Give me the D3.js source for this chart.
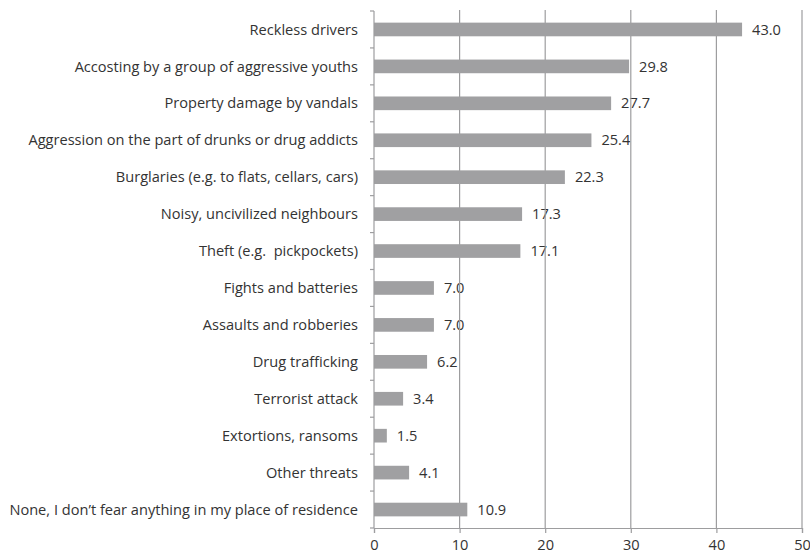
<!DOCTYPE html>
<html><head><meta charset="utf-8">
<script src="https://cdn.jsdelivr.net/npm/d3@7"></script>
<style>body{margin:0;background:#fff}svg{display:block}text{white-space:pre}</style>
</head><body>
<svg id="c" width="810" height="554"></svg>
<script>
const categories = ["Reckless drivers","Accosting by a group of aggressive youths","Property damage by vandals","Aggression on the part of drunks or drug addicts","Burglaries (e.g. to flats, cellars, cars)","Noisy, uncivilized neighbours","Theft (e.g.  pickpockets)","Fights and batteries","Assaults and robberies","Drug trafficking","Terrorist attack","Extortions, ransoms","Other threats","None, I don\u2019t fear anything in my place of residence"];
const values = [43.0,29.8,27.7,25.4,22.3,17.3,17.1,7.0,7.0,6.2,3.4,1.5,4.1,10.9];
const xTicks = [0,10,20,30,40,50];

const svg = d3.select("#c");
const font = "'Open Sans', sans-serif";
const fs = 14.6;
const x = d3.scaleLinear().domain([0,50]).range([374,802]);
const y = d3.scaleBand().domain(categories).range([11,528]).paddingInner(0.63).paddingOuter(0.315);
const gray = "#9d9d9f";

// value labels
svg.append("g").selectAll("text").data(values).join("text")
  .attr("x",(d)=>x(d)+10).attr("y",(d,i)=>y(categories[i])+y.bandwidth()/2)
  .attr("dy","0.35em").attr("font-family",font).attr("font-size",fs).attr("fill","#333")
  .text(d=>d.toFixed(1));

// gridlines
svg.append("g").selectAll("line").data(xTicks.slice(1)).join("line")
  .attr("x1",d=>x(d)).attr("x2",d=>x(d)).attr("y1",10).attr("y2",528)
  .attr("stroke",gray).attr("stroke-width",1.2);

// bars
svg.append("g").selectAll("rect").data(values).join("rect")
  .attr("x",x(0)).attr("y",(d,i)=>y(categories[i]))
  .attr("width",d=>x(d)-x(0)).attr("height",y.bandwidth())
  .attr("fill","#a0a0a2");

// bottom axis
const xa = svg.append("g").attr("transform","translate(0,528)")
  .call(d3.axisBottom(x).tickValues(xTicks).tickSize(5).tickPadding(7).tickFormat(d3.format("d")));
xa.select(".domain").attr("stroke",gray).attr("stroke-width",1.2);
xa.selectAll(".tick line").attr("stroke",gray).attr("stroke-width",1.2);
xa.selectAll("text").attr("font-family",font).attr("font-size",fs).attr("fill","#333");

// left axis line and ticks at band boundaries
svg.append("line").attr("x1",x(0)).attr("x2",x(0)).attr("y1",11).attr("y2",528)
  .attr("stroke",gray).attr("stroke-width",1.2);
const bounds = d3.range(categories.length+1).map(i=>11+i*(517/categories.length));
svg.append("g").selectAll("line").data(bounds).join("line")
  .attr("x1",x(0)-4).attr("x2",x(0)).attr("y1",d=>d).attr("y2",d=>d)
  .attr("stroke",gray).attr("stroke-width",1.2);

// category labels
svg.append("g").selectAll("text").data(categories).join("text")
  .attr("x",358).attr("y",d=>y(d)+y.bandwidth()/2).attr("dy","0.35em")
  .attr("text-anchor","end").attr("font-family",font).attr("font-size",fs).attr("fill","#333")
  .text(d=>d);
</script>
</body></html>
